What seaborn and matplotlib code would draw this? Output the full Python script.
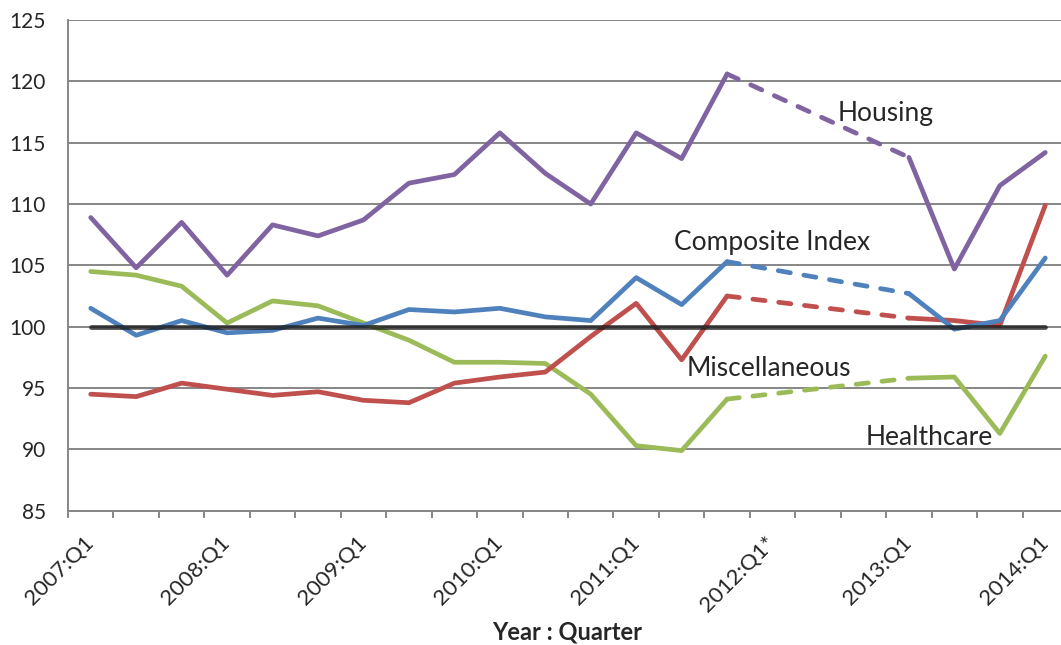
import numpy as np
import pandas as pd
import matplotlib
matplotlib.use("Agg")
import matplotlib.pyplot as plt
import seaborn as sns
from matplotlib.ticker import FixedLocator

# ---- data ----
periods = list(range(22))
label_positions = [0, 3, 6, 9, 12, 15, 18, 21]
tick_labels = ["2007:Q1", "2008:Q1", "2009:Q1", "2010:Q1",
               "2011:Q1", "2012:Q1*", "2013:Q1", "2014:Q1"]

nan = np.nan
housing = [108.9, 104.8, 108.5, 104.2, 108.3, 107.4, 108.7, 111.7, 112.4, 115.8, 112.5,
           110.0, 115.8, 113.7, 120.6, nan, nan, nan, 113.8, 104.7, 111.5, 114.2]
composite = [101.5, 99.3, 100.5, 99.5, 99.7, 100.7, 100.1, 101.4, 101.2, 101.5, 100.8,
             100.5, 104.0, 101.8, 105.3, nan, nan, nan, 102.7, 99.8, 100.5, 105.6]
miscellaneous = [94.5, 94.3, 95.4, 94.9, 94.4, 94.7, 94.0, 93.8, 95.4, 95.9, 96.3,
                 99.2, 101.9, 97.3, 102.5, nan, nan, nan, 100.7, 100.5, 100.1, 109.9]
healthcare = [104.5, 104.2, 103.3, 100.3, 102.1, 101.7, 100.3, 98.9, 97.1, 97.1, 97.0,
              94.5, 90.3, 89.9, 94.1, nan, nan, nan, 95.8, 95.9, 91.3, 97.6]
baseline = [100.0] * 22

gap_start, gap_end = 14, 18

series = {
    "Healthcare": (healthcare, "#9BBB59"),
    "Miscellaneous": (miscellaneous, "#C0504D"),
    "Composite Index": (composite, "#4F81BD"),
    "Housing": (housing, "#8064A2"),
}

# label name -> (x in category units, y value)
labels = {
    "Housing": (16.44, 117.4),
    "Composite Index": (12.83, 106.85),
    "Miscellaneous": (13.11, 96.63),
    "Healthcare": (17.04, 90.93),
}

sns.set_style("white")
plt.rcParams["font.family"] = ["Lato", "DejaVu Sans"]

fig = plt.figure(figsize=(10.61, 6.45), dpi=100)
ax = fig.add_axes([0.0641, 0.2082, 0.9425, 0.7608])

lw = 3.4
for name, (vals, color) in series.items():
    df = pd.DataFrame({"period": periods, "value": vals})
    pre = df[df["period"] <= gap_start]
    post = df[df["period"] >= gap_end]
    bridge = df[df["period"].isin([gap_start, gap_end])]
    for part in (pre, post):
        sns.lineplot(data=part, x="period", y="value", color=color, lw=lw, ax=ax,
                     solid_capstyle="round", solid_joinstyle="round", zorder=3)
    line = sns.lineplot(data=bridge, x="period", y="value", color=color, lw=lw, ax=ax,
                        zorder=3).lines[-1]
    line.set_dashes((2.6, 2.9))
    line.set_dash_capstyle("round")

sns.lineplot(x=periods, y=baseline, color="#1a1a1a", lw=lw, alpha=0.78, ax=ax,
             solid_capstyle="round", zorder=4)

for name, (x, y) in labels.items():
    ax.text(x, y, name, fontsize=19, ha="left", va="center", zorder=5)

ax.set_xlim(-0.5, 21.5)
ax.set_ylim(85, 125)
ax.set_yticks(range(85, 126, 5))
ax.yaxis.grid(True, color="#868686", lw=1.4)
ax.xaxis.grid(False)
ax.set_axisbelow(True)

for side in ("top", "right"):
    ax.spines[side].set_visible(False)
for side in ("left", "bottom"):
    ax.spines[side].set_color("#868686")
    ax.spines[side].set_linewidth(1.4)

ax.xaxis.set_major_locator(FixedLocator(label_positions))
ax.set_xticklabels(tick_labels, rotation=45, ha="right", va="center",
                   rotation_mode="anchor", fontsize=16)
ax.xaxis.set_minor_locator(FixedLocator([p - 0.5 for p in periods] + [21.5]))
ax.tick_params(axis="x", which="major", length=0, pad=21)
ax.tick_params(axis="x", which="minor", length=5, width=1.4, color="#868686",
               direction="out", bottom=True)
ax.tick_params(axis="y", length=0, pad=16, labelsize=15)

ax.set_xlabel("Year : Quarter", fontsize=17, fontweight="bold")
ax.xaxis.set_label_coords(0.499, -0.247)
ax.xaxis.label.set_va("center")
ax.set_ylabel("")

fig.savefig("out.png", dpi=100)
